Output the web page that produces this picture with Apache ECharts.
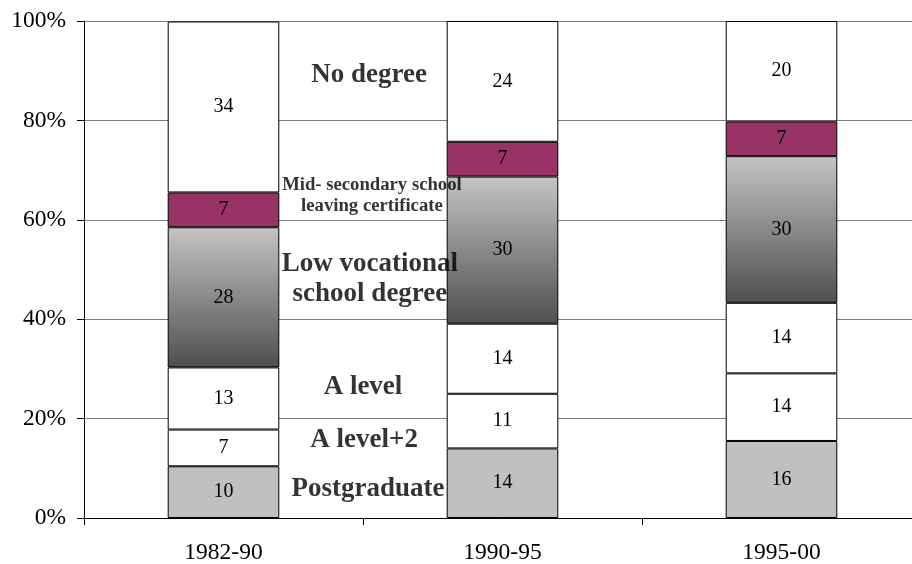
<!DOCTYPE html>
<html>
<head>
<meta charset="utf-8">
<script src="https://cdn.jsdelivr.net/npm/echarts@6/dist/echarts.min.js"></script>
<style>
  html, body { margin: 0; padding: 0; background: #fff; }
  #chart { width: 912px; height: 564px; }
</style>
</head>
<body>
<div id="chart"></div>
<script>
// share of each degree group per period (percent of the cohort)
const periods = ["1982-90", "1990-95", "1995-00"];
const postgraduate = [10.4, 14.0, 15.5];
const aLevelPlus2 = [7.4, 11.0, 13.6];
const aLevel = [12.5, 14.1, 14.2];
const lowVocational = [28.2, 29.6, 29.5];
const midSecondary = [7.0, 7.0, 7.0];
const noDegree = [34.4, 24.3, 20.2];
const yTicks = [0, 20, 40, 60, 80, 100];

// category names written in the gap between the first two bars
const noteTexts = [
  "No degree",
  "Mid- secondary school\nleaving certificate",
  "Low vocational\nschool degree",
  "A level",
  "A level+2",
  "Postgraduate",
];

// layout of those notes: x in bar slots (1 = gap between bar 1 and 2), y in percent
const noteLayout = [
  { x: 1.022, y: 89.1, size: 27, lh: 30 },
  { x: 1.032, y: 64.8, size: 18.7, lh: 21 },
  { x: 1.025, y: 48.1, size: 27, lh: 30 },
  { x: 1.0, y: 26.4, size: 27, lh: 30 },
  { x: 1.004, y: 15.7, size: 27, lh: 30 },
  { x: 1.018, y: 5.8, size: 27, lh: 30 },
];

const SERIF = "'Liberation Serif', 'DejaVu Serif', serif";

const greyRamp = new echarts.graphic.LinearGradient(0, 0, 0, 1, [
  { offset: 0, color: "#c4c4c4" },
  { offset: 1, color: "#4f4f4f" },
]);

function segment(name, data, color) {
  return {
    name,
    type: "bar",
    stack: "total",
    barWidth: "40%",
    data,
    itemStyle: { color, borderColor: "#000", borderWidth: 1 },
    label: {
      show: true,
      position: "inside",
      formatter: (p) => Math.round(p.value),
      fontFamily: SERIF,
      fontSize: 20,
      color: "#000",
    },
  };
}

const chart = echarts.init(document.getElementById("chart"), null, { renderer: "canvas" });

chart.setOption({
  animation: false,
  grid: { left: 84, top: 21, width: 837, bottom: 46, containLabel: false, outerBoundsMode: "none" },
  xAxis: [
    {
      type: "category",
      data: periods,
      axisLine: { lineStyle: { color: "#000", width: 1 } },
      axisTick: { show: true, length: 7, lineStyle: { color: "#000" } },
      axisLabel: { fontFamily: SERIF, fontSize: 23.5, color: "#000", margin: 23 },
    },
    { type: "value", min: 0, max: 3, show: false },
  ],
  yAxis: {
    type: "value",
    min: yTicks[0],
    max: yTicks[yTicks.length - 1],
    interval: yTicks[1] - yTicks[0],
    axisLine: { show: true, lineStyle: { color: "#000", width: 1 } },
    axisTick: { show: true, length: 7, lineStyle: { color: "#000" } },
    axisLabel: { formatter: "{value}%", fontFamily: SERIF, fontSize: 23.5, color: "#000", margin: 18 },
    splitLine: { lineStyle: { color: "#7a7a7a", width: 1 } },
  },
  series: [
    segment("Postgraduate", postgraduate, "#c0c0c0"),
    segment("A level+2", aLevelPlus2, "#ffffff"),
    segment("A level", aLevel, "#ffffff"),
    segment("Low vocational school degree", lowVocational, greyRamp),
    segment("Mid- secondary school leaving certificate", midSecondary, "#993366"),
    segment("No degree", noDegree, "#ffffff"),
    {
      type: "scatter",
      xAxisIndex: 1,
      symbolSize: 0,
      silent: true,
      z: 10,
      data: noteTexts.map((text, i) => ({
        value: [noteLayout[i].x, noteLayout[i].y],
        label: {
          show: true,
          position: "inside",
          formatter: text,
          align: "center",
          verticalAlign: "middle",
          fontFamily: SERIF,
          fontWeight: "bold",
          fontSize: noteLayout[i].size,
          lineHeight: noteLayout[i].lh,
          color: "#000",
        },
      })),
    },
  ],
});
</script>
</body>
</html>
